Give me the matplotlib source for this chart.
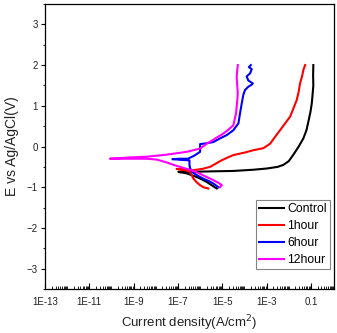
import matplotlib
matplotlib.use("Agg")
import matplotlib.pyplot as plt
import numpy as np
from matplotlib.ticker import FixedLocator, NullFormatter

NARROW = ['Liberation Sans Narrow', 'Liberation Sans', 'DejaVu Sans']
REG = ['Liberation Sans', 'DejaVu Sans']

series_names = ["Control", "1hour", "6hour", "12hour"]
series_colors = ["#000000", "#ff0000", "#0000ff", "#ff00ff"]

# log10(current density) and potential (V)
control_logi = [-5.25, -5.45, -5.70, -5.95, -6.15, -6.40, -6.60, -6.80, -6.95, -6.98,
                -6.70, -6.30, -5.50, -4.50, -3.60, -2.99, -2.50, -2.24, -2.00, -1.79,
                -1.55, -1.34, -1.20, -1.11, -1.02, -0.96, -0.92, -0.89, -0.90, -0.89]
control_e = [-1.03, -0.96, -0.87, -0.80, -0.75, -0.70, -0.66, -0.64, -0.63, -0.62,
             -0.62, -0.62, -0.61, -0.60, -0.57, -0.54, -0.50, -0.45, -0.36, -0.20,
             0.00, 0.20, 0.40, 0.62, 0.85, 1.06, 1.30, 1.50, 1.75, 2.00]

h1_logi = [-5.63, -5.85, -6.00, -6.15, -6.30, -6.38, -6.45, -6.70, -7.06, -6.80,
           -6.30, -5.90, -5.55, -5.10, -4.80, -4.50, -4.00, -3.59, -3.14, -2.84,
           -2.60, -2.39, -2.15, -1.94, -1.80, -1.64, -1.55, -1.49, -1.40, -1.34, -1.26]
h1_e = [-1.03, -1.00, -0.95, -0.88, -0.79, -0.70, -0.62, -0.58, -0.55, -0.56,
        -0.58, -0.55, -0.50, -0.36, -0.28, -0.21, -0.15, -0.09, -0.04, 0.07,
        0.25, 0.40, 0.58, 0.73, 0.92, 1.14, 1.35, 1.55, 1.72, 1.88, 2.00]

h6_logi = [-5.17, -5.40, -5.60, -5.85, -6.10, -6.30, -6.45, -6.48, -6.48, -6.80,
           -7.25, -6.90, -6.55, -6.25, -6.00, -6.00, -5.85, -5.70, -5.40, -5.10,
           -4.80, -4.50, -4.27, -4.20, -4.12, -4.05, -3.97, -3.82, -3.67, -3.62,
           -3.82, -3.90, -3.74, -3.67, -3.80, -3.71]
h6_e = [-1.00, -0.91, -0.85, -0.79, -0.72, -0.65, -0.54, -0.45, -0.34, -0.33,
        -0.31, -0.30, -0.30, -0.22, -0.13, 0.06, 0.07, 0.08, 0.11, 0.20,
        0.28, 0.40, 0.57, 0.81, 1.06, 1.27, 1.39, 1.47, 1.52, 1.55,
        1.62, 1.72, 1.80, 1.90, 1.95, 2.00]

h12_logi = [-5.10, -5.02, -5.15, -5.25, -5.50, -5.70, -6.00, -6.30, -6.60, -6.91,
            -7.20, -7.51, -7.96, -8.41, -9.20, -10.07, -9.20, -8.41, -7.51, -6.60,
            -6.00, -5.70, -5.45, -5.25, -5.00, -4.80, -4.50, -4.38, -4.32, -4.30,
            -4.32, -4.35, -4.30]
h12_e = [-1.00, -0.95, -0.90, -0.87, -0.80, -0.75, -0.67, -0.60, -0.55, -0.50,
         -0.45, -0.39, -0.32, -0.30, -0.30, -0.30, -0.27, -0.25, -0.20, -0.13,
         -0.05, 0.07, 0.15, 0.22, 0.30, 0.38, 0.52, 0.81, 1.14, 1.30,
         1.47, 1.71, 2.00]

all_logi = [control_logi, h1_logi, h6_logi, h12_logi]
all_e = [control_e, h1_e, h6_e, h12_e]

x_label_exps = [-13, -11, -9, -7, -5, -3, -1]
x_labels = ["1E-13", "1E-11", "1E-9", "1E-7", "1E-5", "1E-3", "0.1"]
y_ticks = [-3, -2, -1, 0, 1, 2, 3]

fig = plt.figure(figsize=(3.37, 3.33), dpi=100)
ax = fig.add_axes([0.1335, 0.132, 0.8575, 0.856])

for li, e, name, col in zip(all_logi, all_e, series_names, series_colors):
    ax.plot(10.0 ** np.array(li), e, color=col, lw=1.5, label=name)

ax.set_xscale("log")
ax.set_xlim(1e-13, 1.1)
ax.set_ylim(-3.5, 3.5)

ax.xaxis.set_major_locator(FixedLocator([10.0 ** k for k in x_label_exps]))
ax.set_xticklabels(x_labels)
minor = []
for k in range(-13, 1):
    for m in range(1, 10):
        v = m * 10.0 ** k
        if m == 1 and k in x_label_exps:
            continue
        minor.append(v)
ax.xaxis.set_minor_locator(FixedLocator(minor))
ax.xaxis.set_minor_formatter(NullFormatter())

ax.set_yticks(y_ticks)
ax.yaxis.set_minor_locator(FixedLocator(np.arange(-3.5, 3.6, 0.5)))

ax.tick_params(axis="x", which="major", direction="in", length=4, width=0.8, pad=6)
ax.tick_params(axis="x", which="minor", direction="in", length=2, width=0.6)
ax.tick_params(axis="y", which="major", direction="out", length=3, width=0.8, pad=2)
ax.tick_params(axis="y", which="minor", direction="out", length=1.5, width=0.6)

for lab in ax.get_xticklabels() + ax.get_yticklabels():
    lab.set_family(REG)
    lab.set_fontsize(7)
    lab.set_color("#222222")

for s in ax.spines.values():
    s.set_linewidth(0.9)

ax.set_xlabel("Current density(A/cm$^2$)", family=REG, fontsize=9.5, labelpad=4,
              color="#222222")
ax.set_ylabel("E vs Ag/AgCl(V)", family=REG, fontsize=10, labelpad=6, color="#222222")

leg = ax.legend(loc="lower right", bbox_to_anchor=(0.995, 0.06),
                prop={"family": REG, "size": 8.8}, frameon=True, fancybox=False,
                edgecolor="#666666", borderpad=0.25, labelspacing=0.42,
                handlelength=2.0, handletextpad=0.3, borderaxespad=0.2)
leg.get_frame().set_linewidth(0.8)

fig.savefig("out.png", dpi=100)
